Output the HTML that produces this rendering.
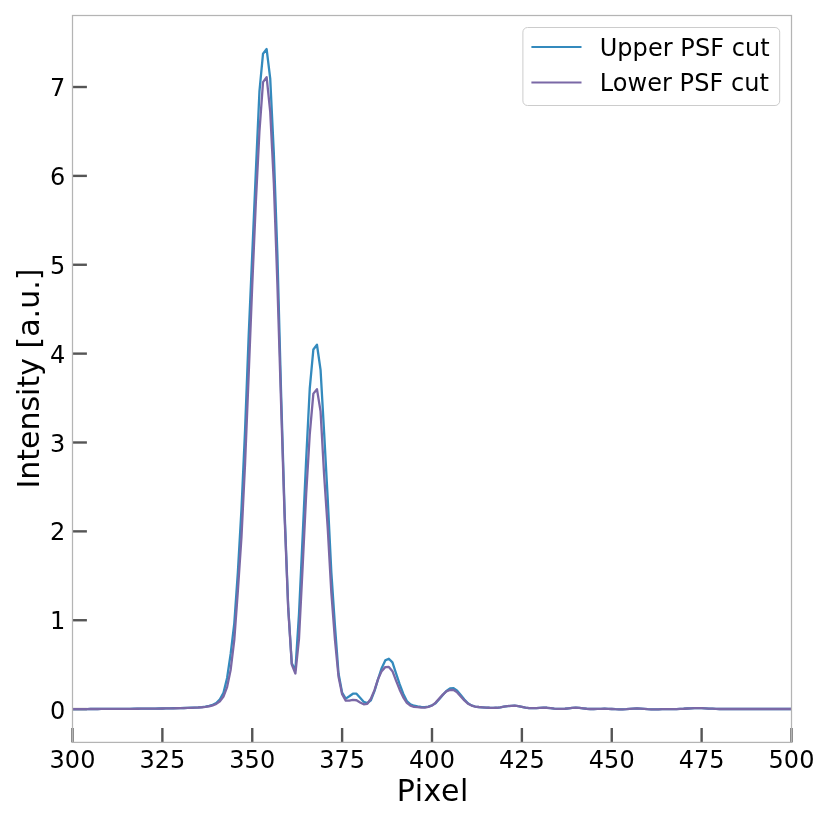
<!DOCTYPE html>
<html lang="en"><head><meta charset="utf-8"><title>PSF cuts</title>
<style>html,body{margin:0;padding:0;background:#fff;}body{width:830px;height:824px;overflow:hidden;}svg{display:block;}text{font-family:'DejaVu Sans','Liberation Sans',sans-serif;fill:#000;}</style>
</head><body>
<svg width="830" height="824" viewBox="0 0 830 824">
<rect x="0" y="0" width="830" height="824" fill="#ffffff"/>
<defs><clipPath id="axclip"><rect x="72.50" y="15.50" width="719.00" height="726.90"/></clipPath></defs>
<g stroke="#555555" stroke-width="2.4" stroke-linecap="butt">
<line x1="72.50" y1="742.40" x2="72.50" y2="728.00"/>
<line x1="162.38" y1="742.40" x2="162.38" y2="728.00"/>
<line x1="252.25" y1="742.40" x2="252.25" y2="728.00"/>
<line x1="342.12" y1="742.40" x2="342.12" y2="728.00"/>
<line x1="432.00" y1="742.40" x2="432.00" y2="728.00"/>
<line x1="521.88" y1="742.40" x2="521.88" y2="728.00"/>
<line x1="611.75" y1="742.40" x2="611.75" y2="728.00"/>
<line x1="701.62" y1="742.40" x2="701.62" y2="728.00"/>
<line x1="791.50" y1="742.40" x2="791.50" y2="728.00"/>
<line x1="72.50" y1="709.10" x2="86.90" y2="709.10"/>
<line x1="72.50" y1="620.23" x2="86.90" y2="620.23"/>
<line x1="72.50" y1="531.36" x2="86.90" y2="531.36"/>
<line x1="72.50" y1="442.49" x2="86.90" y2="442.49"/>
<line x1="72.50" y1="353.62" x2="86.90" y2="353.62"/>
<line x1="72.50" y1="264.75" x2="86.90" y2="264.75"/>
<line x1="72.50" y1="175.88" x2="86.90" y2="175.88"/>
<line x1="72.50" y1="87.01" x2="86.90" y2="87.01"/>
</g>
<g clip-path="url(#axclip)" fill="none" stroke-width="2.3" stroke-linejoin="round" stroke-linecap="butt">
<polyline stroke="#348ABD" points="72.50,709.10 76.09,709.08 79.69,709.06 83.28,709.05 86.88,709.03 90.47,709.01 94.07,708.99 97.66,708.98 101.26,708.96 104.85,708.94 108.45,708.92 112.05,708.90 115.64,708.89 119.23,708.87 122.83,708.85 126.42,708.83 130.02,708.80 133.62,708.76 137.21,708.73 140.81,708.69 144.40,708.66 148.00,708.62 151.59,708.58 155.19,708.55 158.78,708.51 162.38,708.48 165.97,708.41 169.56,708.34 173.16,708.26 176.75,708.19 180.35,708.12 183.94,708.00 187.54,707.89 191.13,707.77 194.73,707.59 198.32,707.41 201.92,707.14 205.51,706.70 209.11,705.90 212.71,704.83 216.30,702.97 219.90,699.32 223.49,692.84 227.09,678.00 230.68,653.65 234.28,623.34 237.87,571.97 241.47,508.96 245.06,429.96 248.66,335.93 252.25,254.09 255.84,171.44 259.44,91.45 263.03,53.68 266.63,49.06 270.23,78.57 273.82,152.77 277.41,254.97 281.01,390.06 284.61,511.81 288.20,606.90 291.79,663.33 295.39,670.00 298.99,614.01 302.58,537.58 306.18,459.38 309.77,388.28 313.37,349.44 316.96,344.73 320.56,369.79 324.15,433.07 327.75,499.37 331.34,572.24 334.94,625.56 338.53,673.55 342.12,692.66 345.72,698.61 349.31,696.25 352.91,693.70 356.50,693.70 360.10,697.72 363.69,701.72 367.29,703.17 370.88,700.26 374.48,691.15 378.07,679.15 381.67,668.22 385.26,660.40 388.86,658.75 392.45,662.38 396.05,673.30 399.64,684.22 403.24,693.70 406.83,700.99 410.43,704.26 414.02,705.72 417.62,706.43 421.21,706.95 424.81,707.17 428.40,706.61 432.00,705.37 435.60,703.15 439.19,699.32 442.79,695.06 446.38,690.88 449.98,688.48 453.57,688.22 457.17,690.79 460.76,695.06 464.36,699.50 467.95,703.23 471.55,705.37 475.14,706.52 478.74,707.01 482.33,707.32 485.93,707.59 489.52,707.77 493.12,707.86 496.71,707.77 500.31,707.32 503.90,706.70 507.50,706.17 511.09,705.81 514.68,705.72 518.28,706.17 521.88,706.88 525.47,707.59 529.07,708.03 532.66,708.12 536.25,708.03 539.85,707.86 543.44,707.68 547.04,707.77 550.63,708.12 554.23,708.57 557.83,708.83 561.42,708.92 565.01,708.74 568.61,708.30 572.20,707.86 575.80,707.68 579.39,707.86 582.99,708.30 586.59,708.74 590.18,709.01 593.77,709.01 597.37,708.92 600.97,708.83 604.56,708.74 608.15,708.83 611.75,709.01 615.35,709.19 618.94,709.28 622.53,709.28 626.13,709.10 629.73,708.83 633.32,708.57 636.91,708.39 640.51,708.57 644.11,708.83 647.70,709.10 651.29,709.28 654.89,709.28 658.49,709.28 662.08,709.19 665.67,709.19 669.27,709.10 672.87,709.10 676.46,709.10 680.05,708.92 683.65,708.74 687.25,708.48 690.84,708.30 694.43,708.12 698.03,708.03 701.62,708.12 705.22,708.30 708.82,708.57 712.41,708.66 716.00,708.83 719.60,709.01 723.20,709.01 726.79,709.01 730.38,709.01 733.98,709.01 737.58,709.01 741.17,709.01 744.76,709.01 748.36,709.01 751.96,709.01 755.55,709.01 759.14,709.01 762.74,709.01 766.34,709.01 769.93,709.01 773.52,709.01 777.12,709.01 780.72,709.01 784.31,709.01 787.90,709.01 791.50,709.01"/>
<polyline stroke="#7A68A6" points="72.50,709.10 76.09,709.08 79.69,709.07 83.28,709.05 86.88,709.03 90.47,709.02 94.07,709.00 97.66,708.98 101.26,708.96 104.85,708.95 108.45,708.93 112.05,708.91 115.64,708.90 119.23,708.88 122.83,708.86 126.42,708.85 130.02,708.81 133.62,708.78 137.21,708.75 140.81,708.71 144.40,708.68 148.00,708.64 151.59,708.61 155.19,708.58 158.78,708.54 162.38,708.51 165.97,708.44 169.56,708.37 173.16,708.31 176.75,708.24 180.35,708.17 183.94,708.06 187.54,707.95 191.13,707.83 194.73,707.66 198.32,707.50 201.92,707.24 205.51,706.82 209.11,706.26 212.71,705.37 216.30,703.95 219.90,701.28 223.49,696.48 227.09,687.10 230.68,669.73 234.28,640.23 237.87,590.90 241.47,537.05 245.06,464.00 248.66,375.30 252.25,284.83 255.84,202.54 259.44,131.45 263.03,82.12 266.63,77.23 270.23,111.89 273.82,182.99 277.41,284.66 281.01,401.43 284.61,517.14 288.20,608.68 291.79,664.66 295.39,673.55 298.99,638.89 302.58,567.97 306.18,494.03 309.77,434.05 313.37,393.61 316.96,389.17 320.56,411.39 324.15,475.55 327.75,528.69 331.34,592.68 334.94,639.78 338.53,676.66 342.12,694.26 345.72,700.61 349.31,700.61 352.91,699.89 356.50,700.26 360.10,702.43 363.69,704.30 367.29,703.77 370.88,698.79 374.48,690.08 378.07,679.12 381.67,671.12 385.26,667.12 388.86,666.89 392.45,671.15 396.05,680.59 399.64,689.69 403.24,697.34 406.83,702.79 410.43,705.72 414.02,706.81 417.62,707.17 421.21,707.54 424.81,707.54 428.40,706.92 432.00,705.55 435.60,702.61 439.19,698.61 442.79,694.61 446.38,691.33 449.98,690.01 453.57,690.01 457.17,692.39 460.76,696.42 464.36,700.42 467.95,703.70 471.55,705.55 475.14,706.52 478.74,707.01 482.33,707.32 485.93,707.59 489.52,707.77 493.12,707.86 496.71,707.77 500.31,707.32 503.90,706.70 507.50,706.17 511.09,705.81 514.68,705.72 518.28,706.17 521.88,706.88 525.47,707.59 529.07,708.03 532.66,708.12 536.25,708.03 539.85,707.86 543.44,707.68 547.04,707.77 550.63,708.12 554.23,708.57 557.83,708.83 561.42,708.92 565.01,708.74 568.61,708.30 572.20,707.86 575.80,707.68 579.39,707.86 582.99,708.30 586.59,708.74 590.18,709.01 593.77,709.01 597.37,708.92 600.97,708.83 604.56,708.74 608.15,708.83 611.75,709.01 615.35,709.19 618.94,709.28 622.53,709.28 626.13,709.10 629.73,708.83 633.32,708.57 636.91,708.39 640.51,708.57 644.11,708.83 647.70,709.10 651.29,709.28 654.89,709.28 658.49,709.28 662.08,709.19 665.67,709.19 669.27,709.10 672.87,709.10 676.46,709.10 680.05,708.92 683.65,708.74 687.25,708.48 690.84,708.30 694.43,708.12 698.03,708.03 701.62,708.12 705.22,708.30 708.82,708.57 712.41,708.66 716.00,708.83 719.60,709.01 723.20,709.01 726.79,709.01 730.38,709.01 733.98,709.01 737.58,709.01 741.17,709.01 744.76,709.01 748.36,709.01 751.96,709.01 755.55,709.01 759.14,709.01 762.74,709.01 766.34,709.01 769.93,709.01 773.52,709.01 777.12,709.01 780.72,709.01 784.31,709.01 787.90,709.01 791.50,709.01"/>
</g>
<rect x="72.50" y="15.50" width="719.00" height="726.90" fill="none" stroke="#b4b4b4" stroke-width="1.25"/>
<g font-size="24" text-anchor="middle">
<text x="72.50" y="768.3">300</text>
<text x="162.38" y="768.3">325</text>
<text x="252.25" y="768.3">350</text>
<text x="342.12" y="768.3">375</text>
<text x="432.00" y="768.3">400</text>
<text x="521.88" y="768.3">425</text>
<text x="611.75" y="768.3">450</text>
<text x="701.62" y="768.3">475</text>
<text x="791.50" y="768.3">500</text>
</g>
<g font-size="24" text-anchor="end">
<text x="65.4" y="718.65">0</text>
<text x="65.4" y="629.33">1</text>
<text x="65.4" y="540.46">2</text>
<text x="65.4" y="451.59">3</text>
<text x="65.4" y="362.72">4</text>
<text x="65.4" y="273.85">5</text>
<text x="65.4" y="184.98">6</text>
<text x="65.4" y="96.11">7</text>
</g>
<text x="396.75" y="800.7" font-size="30" textLength="71.6" lengthAdjust="spacing">Pixel</text>
<text transform="translate(39.2,378.6) rotate(-90)" font-size="30" text-anchor="middle">Intensity [a.u.]</text>
<rect x="522.9" y="27.5" width="256.8" height="78" rx="4.6" ry="4.6" fill="#ffffff" fill-opacity="0.8" stroke="#cccccc" stroke-width="1"/>
<line x1="531.4" y1="47.1" x2="581.5" y2="47.1" stroke="#348ABD" stroke-width="2"/>
<line x1="531.4" y1="82.5" x2="581.5" y2="82.5" stroke="#7A68A6" stroke-width="2"/>
<text x="599.7" y="55.5" font-size="24" textLength="170" lengthAdjust="spacing">Upper PSF cut</text>
<text x="599.7" y="90.9" font-size="24" textLength="169.3" lengthAdjust="spacing">Lower PSF cut</text>
</svg>
</body></html>
